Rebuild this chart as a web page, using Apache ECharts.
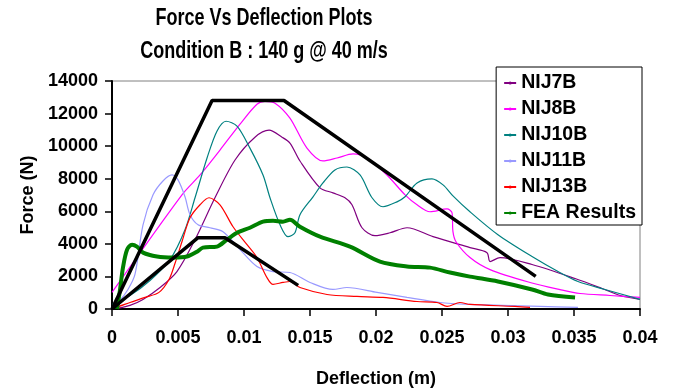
<!DOCTYPE html>
<html>
<head>
<meta charset="utf-8">
<script src="https://cdn.jsdelivr.net/npm/echarts@6/dist/echarts.min.js"></script>
<style>
  html, body { margin: 0; padding: 0; background: #fff; }
  #chart { width: 678px; height: 391px; }
</style>
</head>
<body>
<div id="chart"></div>
<script>
// deflection (m), force (N)
const nij7b = [[0.0005, 50], [0.00136, 220], [0.00235, 590], [0.00364, 1320], [0.00492, 2300],
  [0.00629, 4260], [0.0078, 6830], [0.00932, 9150], [0.01083, 10550], [0.0119, 10980],
  [0.01288, 10550], [0.01348, 10190], [0.01424, 9090], [0.01576, 7440], [0.01674, 7130],
  [0.01765, 6830], [0.01818, 6400], [0.01894, 4990], [0.01992, 4500], [0.02106, 4680],
  [0.02235, 4990], [0.02432, 4440], [0.02712, 3770], [0.02841, 3460], [0.02864, 2910],
  [0.0294, 3160], [0.03182, 2730], [0.03508, 1870], [0.03712, 1260], [0.03848, 830], [0.04, 590]];
const nij8b = [[0, 1015], [0.0053, 7010], [0.00667, 8230],
  [0.00818, 9760], [0.0097, 11350], [0.01098, 12570], [0.01159, 12750], [0.01235, 12640],
  [0.01348, 11720], [0.01477, 9880], [0.01598, 9090], [0.01705, 9270], [0.01826, 9520],
  [0.01932, 9270], [0.02083, 8230], [0.0222, 7010], [0.02311, 6400], [0.02409, 5970],
  [0.02538, 6150], [0.02576, 5910], [0.02583, 4750], [0.02606, 4130], [0.02712, 3160],
  [0.02864, 2420], [0.03167, 1630], [0.03394, 1190], [0.03545, 950], [0.03773, 830], [0.04, 710]];
const nij10b = [[0, 280], [0.00136, 830], [0.00288, 1750], [0.00439, 3030], [0.00553, 4870],
  [0.00629, 6830], [0.0072, 9270], [0.00795, 10920], [0.00864, 11530], [0.00947, 11230],
  [0.01045, 9880], [0.01144, 8230], [0.01197, 6830], [0.01273, 5170], [0.01333, 4440],
  [0.01386, 4680], [0.01424, 5790], [0.01523, 6890], [0.01598, 7740], [0.01689, 8540],
  [0.0178, 8720], [0.01879, 8230], [0.0197, 6830], [0.02053, 6280], [0.02159, 6580],
  [0.0222, 6890], [0.02311, 7740], [0.02424, 7990], [0.02508, 7620], [0.02583, 6950],
  [0.02712, 5970], [0.02924, 4560], [0.03182, 3220], [0.03379, 2300], [0.0353, 1690],
  [0.03735, 1200], [0.04, 590]];
const nij11b = [[0, 100], [0.00053, 460], [0.00121, 1200], [0.00174, 2120], [0.00235, 5170],
  [0.00311, 7010], [0.00386, 7860], [0.00455, 8230], [0.005, 7930], [0.00553, 6890],
  [0.00591, 5790], [0.00652, 5170], [0.00742, 4990], [0.00841, 4750], [0.0097, 3650],
  [0.01098, 2610], [0.0122, 2300], [0.01348, 2240], [0.015, 1630], [0.01674, 1200],
  [0.0178, 1320], [0.02008, 1020], [0.02235, 710], [0.02485, 400], [0.02712, 280],
  [0.02955, 220], [0.03242, 160], [0.0353, 100]];
const nij13b = [[0, 40], [0.00053, 160], [0.00136, 400], [0.0025, 710], [0.00356, 1020],
  [0.00432, 1810], [0.00477, 2790], [0.0053, 4130], [0.00591, 5600], [0.00667, 6400],
  [0.00735, 6830], [0.00818, 6400], [0.00917, 5050], [0.01023, 3950], [0.01098, 3160],
  [0.01174, 1930], [0.0122, 1510], [0.01295, 1630], [0.01348, 1690], [0.01424, 1320],
  [0.01629, 890], [0.01856, 770], [0.02053, 710], [0.02311, 460], [0.02462, 400],
  [0.02538, 160], [0.02636, 400], [0.02712, 280], [0.03053, 160], [0.03167, 100]];
const feaResults = [[0.00038, 0], [0.00061, 1200], [0.00083, 2540], [0.00114, 3640],
  [0.00152, 3950], [0.00189, 3830], [0.00235, 3460], [0.00341, 3220], [0.00462, 3160],
  [0.00568, 3220], [0.00644, 3520], [0.00689, 3770], [0.00795, 3830], [0.00871, 4260],
  [0.00947, 4680], [0.01045, 4990], [0.01144, 5360], [0.0122, 5420], [0.01295, 5360],
  [0.01348, 5480], [0.01424, 5050], [0.01576, 4440], [0.01803, 3830], [0.0203, 2910],
  [0.02235, 2610], [0.02409, 2540], [0.02561, 2240], [0.02712, 1990], [0.02924, 1690],
  [0.03182, 1200], [0.03303, 890], [0.03508, 710]];
// black envelope lines
const upperBound = [[0, 0], [0.00758, 12800], [0.01303, 12800], [0.0321, 2000]];
const lowerBound = [[0, 0], [0.00652, 4380], [0.00856, 4380], [0.0141, 1450]];

const legendNames = ['NIJ7B', 'NIJ8B', 'NIJ10B', 'NIJ11B', 'NIJ13B', 'FEA Results'];
const titleLines = ['Force Vs Deflection Plots', 'Condition B : 140 g @ 40 m/s'];
const font = '"Liberation Sans", Arial, sans-serif';

function testLine(name, data, color) {
  return {
    name: name, type: 'line', data: data, smooth: 0.3, symbol: 'none',
    lineStyle: { color: color, width: 1.2 }, itemStyle: { color: color }
  };
}

// narrow bold title (squeezed horizontally like Arial Narrow)
function titleText(text, y) {
  return {
    type: 'text', x: 264, y: y, scaleX: 0.75, scaleY: 1,
    style: {
      text: text, x: 0, y: 0, fill: '#000',
      fontFamily: font, fontWeight: 'bold', fontSize: 24,
      align: 'center', verticalAlign: 'middle'
    }
  };
}

const chart = echarts.init(document.getElementById('chart'));
chart.setOption({
  animation: false,
  backgroundColor: '#fff',
  graphic: [titleText(titleLines[0], 18), titleText(titleLines[1], 51)],
  legend: {
    data: legendNames,
    orient: 'vertical',
    right: 36, top: 67,
    padding: [6, 6, 2, 7],
    itemWidth: 12, itemHeight: 4, itemGap: 6,
    backgroundColor: '#fff', borderColor: '#000', borderWidth: 1, borderRadius: 0,
    textStyle: { fontFamily: font, fontWeight: 'bold', fontSize: 19.5, lineHeight: 20, color: '#000' }
  },
  grid: {
    left: 112, right: 38, top: 81, bottom: 82,
    outerBoundsMode: 'none',
    show: true, borderColor: '#808080', borderWidth: 1
  },
  xAxis: {
    type: 'value', min: 0, max: 0.04, interval: 0.005,
    name: 'Deflection (m)', nameLocation: 'middle', nameGap: 61,
    nameTextStyle: { fontFamily: font, fontWeight: 'bold', fontSize: 18, color: '#000' },
    axisLine: { onZero: false, lineStyle: { color: '#000', width: 2 } },
    axisTick: { show: true, length: 7, lineStyle: { color: '#000', width: 1.5 } },
    axisLabel: {
      margin: 20, color: '#000', fontFamily: font, fontWeight: 'bold', fontSize: 18,
      formatter: function (v) { return String(+v.toFixed(3)); }
    },
    splitLine: { show: false }
  },
  yAxis: {
    type: 'value', min: 0, max: 14000, interval: 2000,
    name: 'Force (N)', nameLocation: 'middle', nameGap: 64,
    nameTextStyle: { fontFamily: font, fontWeight: 'bold', fontSize: 18, color: '#000' },
    axisLine: { show: true, lineStyle: { color: '#000', width: 2 } },
    axisTick: { show: true, length: 7, lineStyle: { color: '#000', width: 1.5 } },
    axisLabel: {
      margin: 14, color: '#000', fontFamily: font, fontWeight: 'bold', fontSize: 18,
      formatter: function (v) { return String(v); }
    },
    splitLine: { show: false }
  },
  series: [
    testLine('NIJ7B', nij7b, '#800080'),
    testLine('NIJ8B', nij8b, '#FF00FF'),
    testLine('NIJ10B', nij10b, '#008080'),
    testLine('NIJ11B', nij11b, '#9999FF'),
    testLine('NIJ13B', nij13b, '#FF0000'),
    {
      name: 'FEA Results', type: 'line', data: feaResults, smooth: 0.3, symbol: 'none',
      lineStyle: { color: '#008000', width: 4 }, itemStyle: { color: '#008000' }
    },
    {
      name: 'upper', type: 'line', data: upperBound, symbol: 'none',
      lineStyle: { color: '#000', width: 3.5 }, itemStyle: { color: '#000' }
    },
    {
      name: 'lower', type: 'line', data: lowerBound, symbol: 'none',
      lineStyle: { color: '#000', width: 3.5 }, itemStyle: { color: '#000' }
    }
  ]
});
</script>
</body>
</html>
